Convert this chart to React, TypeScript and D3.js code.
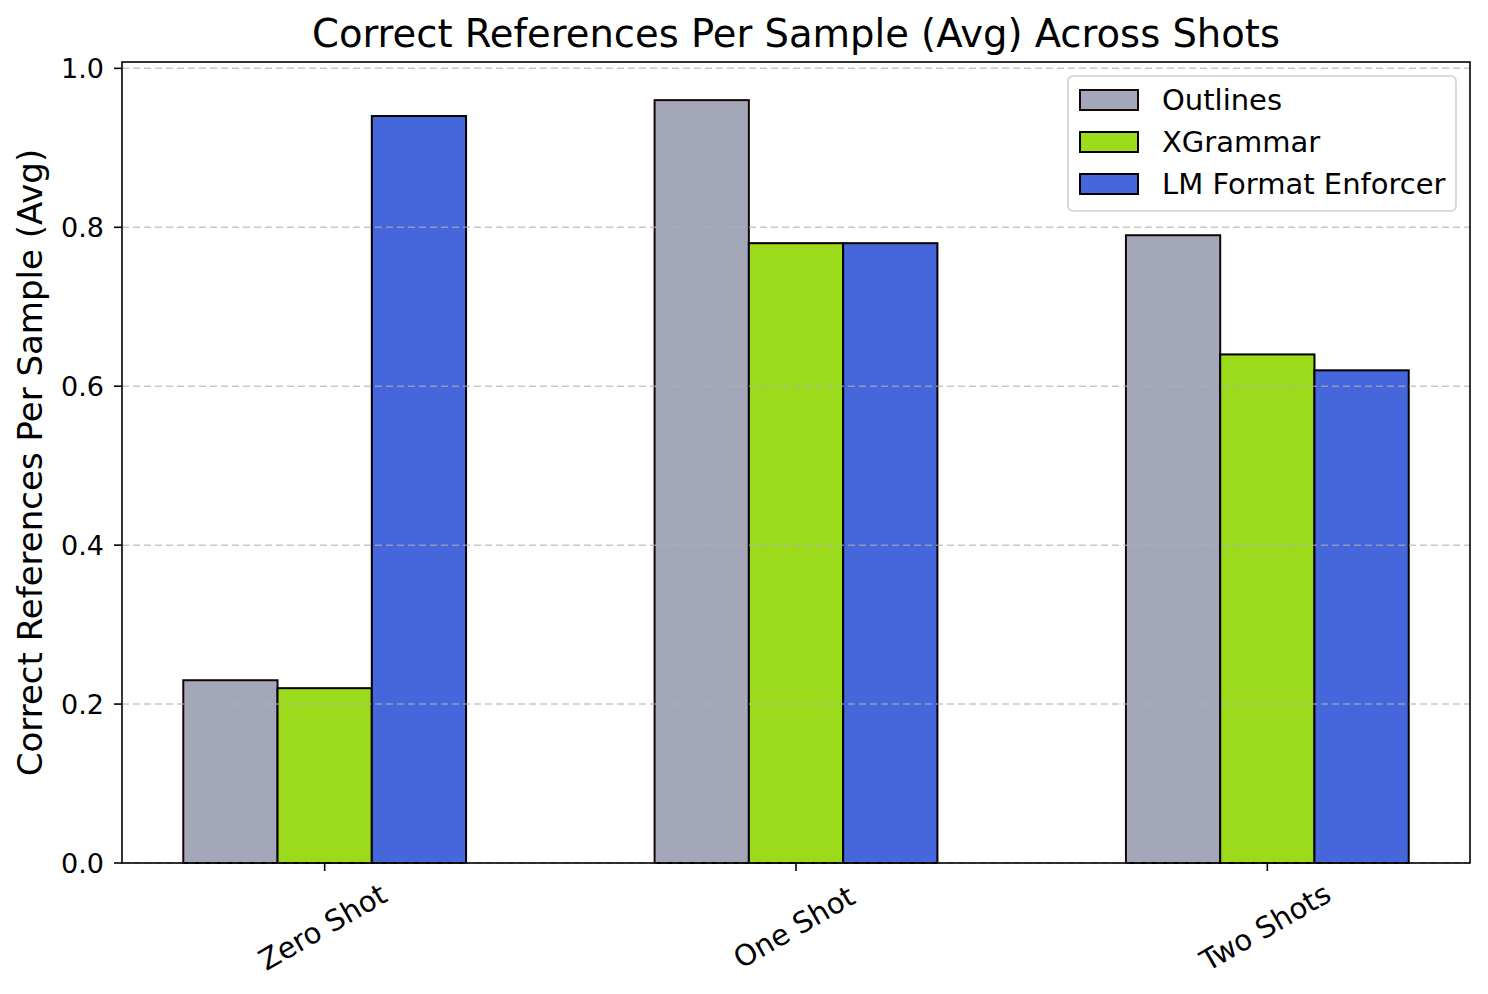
import React, { useEffect, useRef } from 'react';
import * as d3 from 'd3';

// Data
const categories = ['Zero Shot', 'One Shot', 'Two Shots'];
const seriesNames = ['Outlines', 'XGrammar', 'LM Format Enforcer'];
const outlines = [0.23, 0.96, 0.79];
const xgrammar = [0.22, 0.78, 0.64];
const lmFormatEnforcer = [0.94, 0.78, 0.62];
const yTicks = [0.0, 0.2, 0.4, 0.6, 0.8, 1.0];

const seriesValues = [outlines, xgrammar, lmFormatEnforcer];
const colors = ['#a4a7ba', '#9bdb1c', '#4567db'];

const App = () => {
  const ref = useRef<SVGSVGElement | null>(null);

  useEffect(() => {
    const width = 1488;
    const height = 994;
    const margin = { top: 62, right: 18, bottom: 131, left: 122 };
    const font = 'DejaVu Sans, sans-serif';

    const svg = d3.select(ref.current);
    svg.selectAll('*').remove();
    svg.attr('width', width).attr('height', height);

    svg.append('rect').attr('width', width).attr('height', height).attr('fill', '#fff');

    const innerW = width - margin.left - margin.right;
    const innerH = height - margin.top - margin.bottom;

    const g = svg.append('g').attr('transform', `translate(${margin.left},${margin.top})`);

    // numeric x like matplotlib: groups at 0,1,2 with bar width 0.2
    const barW = 0.2;
    const xScale = d3.scaleLinear().domain([-0.43, 2.43]).range([0, innerW]);
    const yScale = d3.scaleLinear().domain([0, 1.008]).range([innerH, 0]);

    // bars
    seriesValues.forEach((vals, si) => {
      g.selectAll(`.bar-${si}`)
        .data(vals)
        .enter()
        .append('rect')
        .attr('x', (_, i) => xScale(i + (si - 1) * barW - barW / 2))
        .attr('y', d => yScale(d))
        .attr('width', xScale(barW) - xScale(0))
        .attr('height', d => yScale(0) - yScale(d))
        .attr('fill', colors[si])
        .attr('stroke', si === 0 ? '#1a0505' : '#000')
        .attr('stroke-width', 2);
    });

    // grid (drawn over bars)
    g.selectAll('.grid')
      .data(yTicks)
      .enter()
      .append('line')
      .attr('x1', 0)
      .attr('x2', innerW)
      .attr('y1', d => yScale(d))
      .attr('y2', d => yScale(d))
      .attr('stroke', '#b0b0b0')
      .attr('stroke-opacity', 0.7)
      .attr('stroke-width', 1.5)
      .attr('stroke-dasharray', '7,4');

    // frame
    g.append('rect')
      .attr('width', innerW)
      .attr('height', innerH)
      .attr('fill', 'none')
      .attr('stroke', '#000')
      .attr('stroke-width', 1.6);

    // y axis ticks
    yTicks.forEach(t => {
      g.append('line')
        .attr('x1', -8).attr('x2', 0)
        .attr('y1', yScale(t)).attr('y2', yScale(t))
        .attr('stroke', '#000').attr('stroke-width', 1.6);
      g.append('text')
        .attr('x', -18)
        .attr('y', yScale(t))
        .attr('dy', '0.36em')
        .attr('text-anchor', 'end')
        .style('font-family', font)
        .style('font-size', '27px')
        .text(d3.format('.1f')(t));
    });

    // x axis ticks and rotated labels
    categories.forEach((c, i) => {
      g.append('line')
        .attr('x1', xScale(i)).attr('x2', xScale(i))
        .attr('y1', innerH).attr('y2', innerH + 8)
        .attr('stroke', '#000').attr('stroke-width', 1.6);
      g.append('text')
        .attr('transform', `translate(${xScale(i) - 2},${innerH + 64}) rotate(-30)`)
        .attr('text-anchor', 'middle')
        .attr('dy', '0.35em')
        .style('font-family', font)
        .style('font-size', '29px')
        .text(c);
    });

    // y label
    svg.append('text')
      .attr('transform', `translate(42,${margin.top + innerH / 2}) rotate(-90)`)
      .attr('text-anchor', 'middle')
      .style('font-family', font)
      .style('font-size', '34px')
      .text('Correct References Per Sample (Avg)');

    // title
    svg.append('text')
      .attr('x', margin.left + innerW / 2)
      .attr('y', 47)
      .attr('text-anchor', 'middle')
      .style('font-family', font)
      .style('font-size', '38.5px')
      .text('Correct References Per Sample (Avg) Across Shots');

    // legend
    const legend = svg.append('g').attr('transform', 'translate(1068,76)');
    legend.append('rect')
      .attr('width', 388)
      .attr('height', 135)
      .attr('rx', 5)
      .attr('fill', '#fff')
      .attr('fill-opacity', 0.8)
      .attr('stroke', '#d0d0d0')
      .attr('stroke-width', 1.6);
    seriesNames.forEach((name, i) => {
      const ly = 24 + i * 42;
      legend.append('rect')
        .attr('x', 12)
        .attr('y', ly - 10)
        .attr('width', 58)
        .attr('height', 20)
        .attr('fill', colors[i])
        .attr('stroke', i === 0 ? '#1a0505' : '#000')
        .attr('stroke-width', 2);
      legend.append('text')
        .attr('x', 94)
        .attr('y', ly)
        .attr('dy', '0.36em')
        .style('font-family', font)
        .style('font-size', '29px')
        .text(name);
    });
  }, []);

  return <svg ref={ref} style={{ display: 'block', marginTop: -8, marginLeft: -8 }}></svg>;
};

export default App;
